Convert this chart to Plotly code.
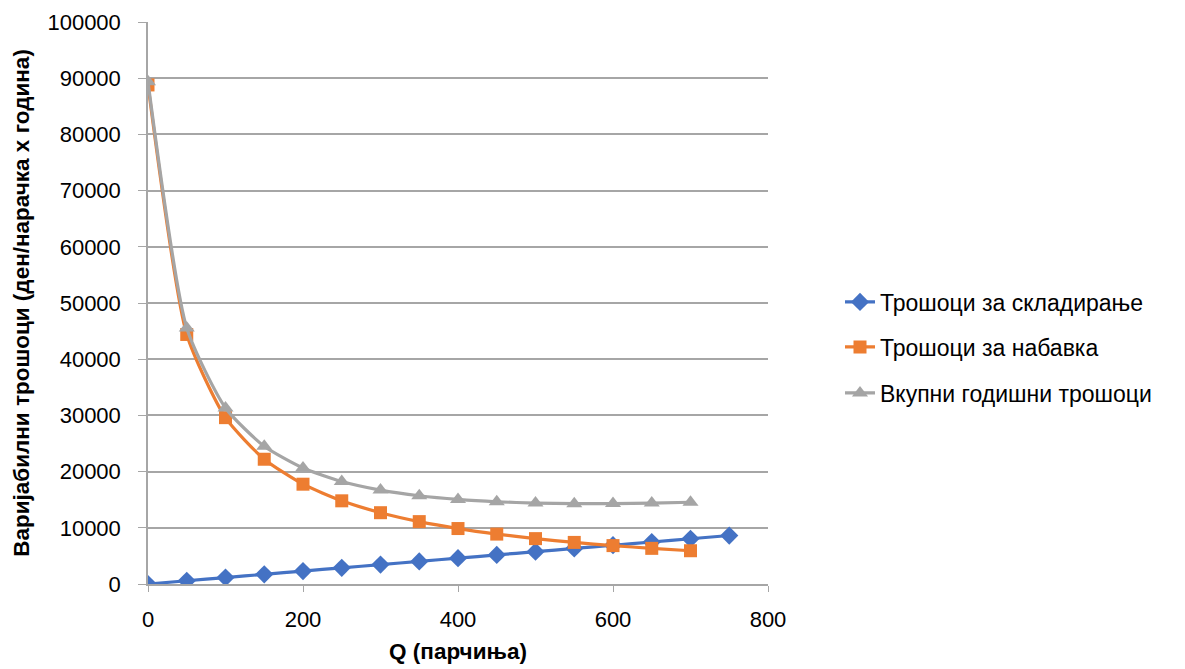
import plotly.graph_objects as go

q_storage = [0, 50, 100, 150, 200, 250, 300, 350, 400, 450, 500, 550, 600, 650, 700, 750]
storage = [0, 575, 1150, 1725, 2300, 2875, 3450, 4025, 4600, 5175, 5750, 6325, 6900, 7475, 8050, 8625]

q_order = [0, 50, 100, 150, 200, 250, 300, 350, 400, 450, 500, 550, 600, 650, 700]
ordering = [88800, 44400, 29600, 22200, 17760, 14800, 12686, 11100, 9867, 8880, 8073, 7400, 6831, 6343, 5920]
total = [89375, 45550, 31325, 24500, 20635, 18250, 16711, 15700, 15042, 14630, 14398, 14300, 14306, 14393, 14545]

names = ["Трошоци за складирање", "Трошоци за набавка", "Вкупни годишни трошоци"]
colors = ["#4472C4", "#ED7D31", "#A5A5A5"]
symbols = ["diamond", "square", "triangle-up"]
msizes = [14, 13, 14]

FONT = "Liberation Sans"

fig = go.Figure()
series = [(q_storage, storage), (q_order, ordering), (q_order, total)]
legends = ["legend", "legend2", "legend3"]
for i, (xs, ys) in enumerate(series):
    fig.add_trace(go.Scatter(
        x=xs, y=ys, name=names[i], mode="lines+markers",
        line=dict(color=colors[i], width=3.2, shape="spline", smoothing=0.6),
        marker=dict(symbol=symbols[i], size=msizes[i], color=colors[i]),
        legend=legends[i], showlegend=True,
    ))

leg_common = dict(font=dict(family=FONT, size=23, color="#000"), xanchor="left", yanchor="middle",
                  bgcolor="rgba(0,0,0,0)", itemwidth=30)
ys_leg = [302, 347, 393]
H = 669 - 22 - 85
for i, lg in enumerate(legends):
    fig.update_layout(**{lg: dict(x=(840 - 148) / 620, y=(584 - ys_leg[i]) / H, **leg_common)})

fig.update_layout(
    width=1185, height=669,
    showlegend=True,
    margin=dict(l=148, r=417, t=22, b=85),
    plot_bgcolor="white", paper_bgcolor="white",
    font=dict(family=FONT, size=22, color="#000"),
    xaxis=dict(range=[0, 800], tickvals=[0, 200, 400, 600, 800], showgrid=False,
               showline=True, linecolor="#A6A6A6", linewidth=1.5,
               ticks="outside", ticklen=6, tickcolor="#A6A6A6",
               ticklabelstandoff=9, automargin=False,
               title=dict(text="<b>Q (парчиња)</b>", font=dict(size=22.5), standoff=12),
               zeroline=False),
    yaxis=dict(range=[0, 100000], dtick=10000, showgrid=True, gridcolor="#A6A6A6", gridwidth=1.5,
               showline=True, linecolor="#A6A6A6", linewidth=1.5,
               ticks="outside", ticklen=8, tickcolor="#A6A6A6",
               ticklabelstandoff=13, automargin=False,
               tickformat="d",
               title=dict(text="<b>Варијабилни трошоци (ден/нарачка х година)</b>", font=dict(size=22.5), standoff=12),
               zeroline=False),
)

fig.write_html("out.html")
